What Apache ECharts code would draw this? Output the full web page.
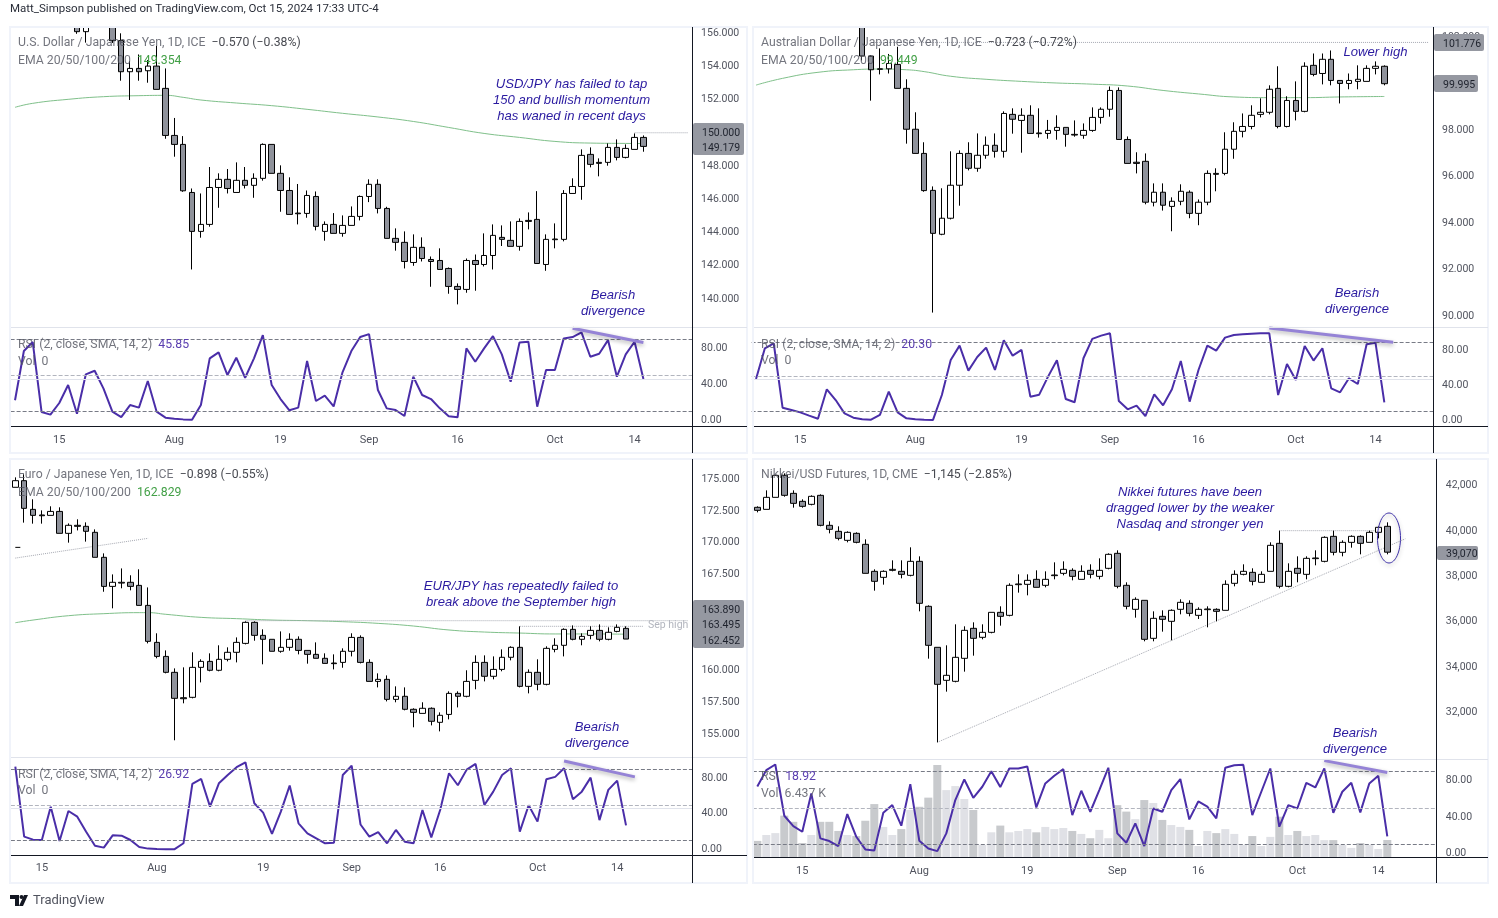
<!DOCTYPE html>
<html>
<head>
<meta charset="utf-8">
<title>USD/JPY, AUD/JPY, EUR/JPY, Nikkei</title>
<script src="https://cdn.jsdelivr.net/npm/echarts@6/dist/echarts.min.js"></script>
<style>
html, body { margin: 0; padding: 0; background: #fff; }
#main { width: 1498px; height: 918px; }
</style>
</head>
<body>
<div id="main"></div>
<script>
// [open, close, low, high]
var usdjpy = [
[160.7,160.8,160.3,161.2],[160.8,161.3,160.7,161.5],[161.3,161.7,161.2,161.8],[161.7,158.8,157.4,161.8],[158.8,157.9,157.3,159.4],[157.9,158.3,157.6,158.8],
[158.3,158.4,157.9,159],[158.4,156.08,155.95,158.8],[156.08,157.4,155.42,157.8],[157.4,157.5,156.9,157.9],[157.5,157,156.8,157.8],[157,155.54,155.4,157.1],
[155.54,153.67,153.13,155.98],[153.67,153.87,151.97,154.31],[153.87,153.67,153.13,154.71],[153.73,154.01,153.01,154.37],[154.01,152.61,152.61,155.22],[152.67,149.84,149.64,153.87],
[149.84,149.3,148.56,150.89],[149.3,146.51,146.45,149.8],[146.41,144.07,141.78,146.65],[144.07,144.49,143.69,146.35],[144.49,146.71,144.35,147.94],[146.71,147.2,145.49,147.56],
[147.2,146.65,146.35,147.82],[146.41,147.14,146.41,148.22],[147.14,146.84,146.65,147.94],[146.84,147.26,146.09,147.56],[147.26,149.3,147.12,149.36],[149.3,147.56,147.56,149.3],
[147.56,146.53,145.25,148.04],[146.53,145.09,145.09,147.32],[145.17,145.13,144.49,146.92],[145.15,146.23,144.89,146.53],[146.17,144.37,144.13,146.47],[144.07,144.49,143.51,144.67],
[144.49,143.95,143.95,145.17],[143.95,144.43,143.75,145.03],[144.43,144.97,144.43,145.57],[144.97,146.17,144.73,146.23],[146.17,146.9,145.83,147.2],[146.9,145.45,145.15,147.2],
[145.45,143.65,143.65,145.55],[143.65,143.41,142.91,144.25],[143.41,142.26,141.84,144.07],[142.2,143.11,142,143.89],[143.11,142.44,142.26,143.71],[142.38,142.26,140.74,142.56],
[142.32,141.78,141.78,143.05],[141.84,140.76,140.32,141.9],[140.76,140.58,139.68,140.94],[140.58,142.32,140.38,142.44],[142.32,142.08,140.5,142.68],[142.08,142.62,141.96,143.95],
[142.62,143.83,141.78,144.49],[143.71,143.59,143.19,144.43],[143.53,143.17,143.17,144.67],[143.17,144.67,142.91,144.85],[144.73,144.67,144.19,145.21],[144.79,142.14,142.14,146.49],
[142.08,143.59,141.7,143.89],[143.57,143.61,143.05,144.55],[143.59,146.35,143.47,146.55],[146.35,146.77,146.35,147.26],[146.77,148.64,145.97,149],[148.7,148.1,147.92,149.12],
[148.22,148.16,147.38,148.46],[148.22,149.12,148.02,149.36],[149.12,148.52,148.34,149.6],[148.52,149.06,148.46,149.3],[149,149.72,149,149.96],[149.72,149.18,148.86,149.84]
];
var audjpy = [
[108.5,108.9,108.3,109.1],[108.9,109.2,108.7,109.4],[109.2,109.3,109,109.4],[109.3,107.3,107,109.4],[107.3,107.4,106.8,107.9],[107.4,107.2,106.8,107.7],
[107.2,106.9,106.6,107.5],[106.9,105.2,105,107],[105.2,105.6,104.9,105.9],[105.6,105.2,105,105.9],[105.2,104.5,104.2,105.4],[104.5,103.8,103.5,104.6],
[103.8,101.19,101,103.9],[101.19,100.6,99.27,101.23],[100.64,100.62,100.4,101.52],[100.64,100.87,100.44,101.28],[100.83,99.8,99.8,101.59],[99.8,98.04,97.42,100.19],
[98.04,97,97,98.77],[97,95.4,95.35,97.48],[95.41,93.56,90.15,95.58],[93.52,94.21,93.48,95.5],[94.21,95.63,94.16,97.09],[95.63,97,94.75,97.13],
[97,96.36,96.27,97.48],[96.36,96.92,96.21,97.86],[96.92,97.35,96.77,97.73],[97.35,97.09,96.82,97.86],[97.09,98.72,96.82,98.81],[98.68,98.47,97.85,98.94],
[98.42,98.64,97.03,98.94],[98.64,97.86,97.86,99.07],[97.88,97.85,97.68,98.94],[97.86,97.99,97.63,98.44],[97.99,98.12,97.59,98.64],[98.12,97.82,97.29,98.12],
[97.82,97.79,97.72,98.42],[97.78,97.99,97.63,98.29],[97.99,98.55,97.93,98.98],[98.55,98.9,98.28,98.98],[98.9,99.71,98.58,99.88],[99.71,97.6,97.6,99.84],
[97.6,96.57,96.57,97.73],[96.62,96.57,96.14,97.05],[96.66,94.9,94.81,97],[94.9,95.33,94.72,95.71],[95.33,94.77,94.54,95.71],[94.72,94.94,93.65,95.11],
[94.94,95.37,94.77,95.67],[95.33,94.42,94.21,95.41],[94.42,94.9,93.91,95.02],[94.9,96.14,94.77,96.27],[96.14,96.1,95.37,96.36],[96.14,97.18,96.06,97.91],
[97.18,97.95,96.77,98.34],[97.95,98.16,97.69,98.72],[98.16,98.64,98.04,99.07],[98.68,98.77,98.55,99.37],[98.77,99.76,98.68,99.93],[99.8,98.16,98.08,100.75],
[98.16,99.28,98.12,99.46],[99.28,98.81,98.42,100.1],[98.81,100.75,98.77,100.92],[100.79,100.4,100.32,101.3],[100.44,101.05,99.97,101.3],[101.05,100.14,99.93,101.43],
[100.14,100.01,99.15,100.14],[100.01,100.14,99.76,100.44],[100.1,100.19,99.76,100.79],[100.1,100.66,100.1,100.79],[100.66,100.75,100.4,100.96],[100.75,100,99.93,100.79]
];
var eurjpy = [
[174.35,174.87,174.35,175.13],[174.87,172.7,171.58,175.37],[172.62,172.15,171.5,173.41],[172.18,172.12,171.5,172.54],[172.15,172.46,172.15,172.86],[172.46,170.74,170.74,172.78],
[170.74,171.37,170.01,171.52],[171.37,171.29,170.97,171.84],[171.29,170.9,170.09,171.6],[170.82,168.86,168.86,171.05],[168.86,166.58,166.16,169.17],[166.58,166.9,164.86,167.52],
[166.84,166.9,166.43,167.99],[166.9,166.58,166.27,167.45],[166.66,165.09,165.09,167.92],[165.09,162.27,162.11,166.5],[162.19,161.09,160.94,162.9],[161.09,159.84,159.76,161.56],
[159.84,157.8,154.51,160.15],[157.85,157.77,157.41,160.23],[157.88,160.23,157.8,161.41],[160.23,160.7,159.05,160.86],[160.7,160,159.92,161.33],[160,160.86,159.92,161.96],
[160.86,161.41,160.7,161.8],[161.41,162.19,160.62,162.58],[162.11,163.76,162.03,163.84],[163.76,162.74,162.32,163.84],[162.74,162.43,160.47,163.21],[162.43,161.49,161.49,162.43],
[161.49,161.8,161.38,163.05],[161.8,162.43,161.54,162.9],[162.43,161.56,161.25,162.66],[161.56,161.25,160.52,161.56],[161.25,160.94,160.94,162.19],[160.94,160.54,160.54,161.33],
[160.57,160.52,160.07,161.25],[160.62,161.49,160.2,161.72],[161.49,162.58,161.09,162.9],[162.58,160.62,160.54,162.74],[160.62,159.13,159.13,160.86],[159.13,159.29,158.66,159.76],
[159.29,157.72,157.56,159.6],[157.72,157.96,157.49,158.74],[157.96,156.94,156.86,158.66],[156.94,156.7,155.53,157.02],[156.62,157.02,156.62,157.49],[157.02,156,155.68,157.09],
[155.92,156.47,155.21,156.7],[156.54,158.19,156.15,158.35],[158.19,157.96,157.09,158.35],[157.96,159.13,157.88,160],[159.21,160.62,158.51,161.17],[160.62,159.53,159.13,161.17],
[159.53,160.07,159.29,161.09],[160.07,161.02,159.92,161.64],[161.02,161.8,160.78,161.88],[161.8,158.74,158.66,163.45],[158.74,159.84,158.19,160.07],[159.84,158.9,158.43,160.86],
[158.9,161.72,158.82,161.88],[161.64,161.96,161.41,162.51],[161.96,163.21,161.09,163.29],[163.21,162.43,162.35,163.52],[162.43,162.66,161.96,162.9],[162.74,163.13,162.43,163.45],
[163.13,162.43,162.27,163.6],[162.43,162.98,162.35,163.37],[163.05,163.37,162.98,163.6],[163.29,162.45,162.45,163.45]
];
var nikkei = [
[41046,40913,40825,41090],[40957,41486,40957,41794],[41486,42455,41486,42455],[42455,41574,41515,42543],[41662,41221,41031,41794],[41310,41090,41031,41398],
[41178,41530,41134,41574],[41574,40253,40209,41618],[40253,40077,39900,40429],[39988,39680,39592,40209],[39592,39944,39504,39988],[39900,39504,39460,39944],
[39416,38138,38138,39636],[38226,37786,37375,38314],[37962,38226,37639,38270],[38270,38314,38226,38711],[38226,38094,37918,38711],[38050,38667,38006,39284],
[38667,36817,36464,38887],[36685,34967,34379,36729],[34879,33249,30694,34879],[33425,33645,32926,34967],[33381,34438,33337,35892],[34394,35627,33807,35804],
[35716,35275,34511,35980],[35319,35539,35231,35892],[35539,36420,35495,36420],[36420,36244,35833,36685],[36288,37610,36244,37698],[37639,37669,37287,38094],
[37654,37830,37169,38094],[37874,37522,37522,38270],[37610,37874,37522,38226],[38036,38065,37874,38623],[38138,38314,38050,38667],[38270,38006,37830,38359],
[37874,38226,37874,38491],[38270,38094,37918,38535],[38006,38270,37874,38799],[38359,38975,38314,39019],[39019,37566,37478,39152],[37610,36685,36553,37742],
[36553,36993,36185,37081],[36949,35231,35143,36949],[35275,36156,35143,36464],[36244,36112,35569,36509],[36024,36509,35187,36553],[36553,36861,36332,36993],
[36817,36376,36244,36949],[36288,36553,36127,36641],[36538,36567,35760,36685],[36553,36464,36024,36597],[36509,37654,36509,37830],[37698,38094,37566,38270],
[38094,38226,38050,38535],[38182,37786,37610,38359],[37742,38094,37742,38226],[38226,39372,38226,39504],[39460,37566,37478,40018],[37566,38226,37522,38579],
[38359,38138,37742,38887],[38094,38799,37874,38887],[38785,38814,38491,39152],[38667,39724,38623,39768],[39768,39064,38931,40018],[39064,39504,38887,39592],
[39504,39768,39269,39812],[39768,39460,38975,39812],[39504,39944,39504,40018],[39944,40165,39680,40209],[40209,39070,38975,40385]
];

var usdjpyRsi = [22,77,87,9,6,19,39,7,51,55,35,9.3,3.3,16.7,13.8,43.5,9.3,2.6,1.5,0.7,0.4,16.7,68.8,75.5,50.2,69.5,47.2,68.8,94.8,39,23.4,10.8,13.8,65.8,21.2,27.1,15.2,53.2,77,92.6,95.9,33.5,13,11.2,4.5,48.3,27.9,23.4,13,4.1,3,79.9,65.1,79.9,93.7,73.2,42.8,86.6,87.4,14.9,55.8,55.8,91.1,92.6,97.8,70.6,74,89.2,48.3,73.2,87.4,45.85];
var audjpyRsi = [47.3,82.7,88.5,14.2,11.5,8.8,5,1.5,35.4,23,7.7,2.7,0.8,0.4,5.8,32.7,8.8,1.9,0.8,0.4,0.1,28.8,69.2,85.8,56.9,72.7,83.5,57.7,91.9,74.2,80.8,26.9,29.2,50,68.8,24.2,20.4,71.2,93.5,97.3,100,21.9,12.3,16.5,4.6,29.6,16.9,35.4,68.1,21.2,57.7,85.8,80,95,98,98.8,99.6,100,100,28.8,64.6,46.2,85.4,68.5,82.7,36.5,31.9,48.1,41.5,87.3,89.2,20.3];
var eurjpyRsi = [93.2,14.3,10.9,10.5,48.1,9.4,43.2,36.8,19.9,4.1,1.9,15.8,15.4,10.5,2.6,0.8,0.4,0.2,0.2,6.8,73.7,79.3,48.1,74.4,83.8,92.5,98.1,51.9,41.4,17.3,42.5,71.8,29.3,18,12.4,6.8,7.5,83.8,94.2,28,14.3,19.5,6.8,21.8,8.6,6.8,44.3,13.5,44.3,85.7,72.2,89.8,96.2,50,65,83.8,91.3,20,49.6,31.2,79,81.6,91.3,56.4,65,80.8,32.9,67,77.4,26.92];
var nikkeiRsi = [73.7,91.6,97.8,41.6,30.3,24.1,66,16.8,13.9,8.4,43.4,18.6,4.7,3.6,44.9,53.3,30.7,76.3,14.2,5.8,2.9,22.3,58.8,81.4,61.3,73.4,90.5,73,93.4,93.4,95.6,50.7,77,85.4,92.7,42.3,69,46,69.7,94.2,22.3,12,33.2,8.4,49.6,46,69.7,81.8,37.6,57.3,51.5,38.7,94.2,97,97.4,42.3,67.9,93.4,29.6,53.3,49.6,77.7,72.6,93.4,44.9,67.9,77.7,45.3,77,85.4,18.92];
var nikkeiVol = [6.1,8.3,9,15.5,13.2,5.3,8.3,13.2,13.2,9.8,8.3,7.9,13.6,19.8,11.3,8.3,10.5,17.6,18.8,22.2,34.3,25,26.5,21.7,17.6,4.6,9.3,11.8,9.3,9.8,10.5,9.3,11.3,10.5,10.9,9.8,8.7,7.1,10.2,7.1,19.4,17,14.2,21.3,20.2,13.9,12,11.3,10.2,4.2,9.8,9,10.5,8.7,4.6,7.9,4.2,7.6,15.1,8.3,9.8,7.9,8.3,6.4,6.4,4.6,3.5,5.3,4.6,3.1,6.437];

// EMA 200, read at a handful of bars: [bar index, value]
var usdjpyEma = [[0,151.53],[2,151.77],[6,152.01],[10,152.17],[14,152.23],[17,152.25],[19,152.13],[21,151.97],[25,151.79],[29,151.63],[33,151.41],[37,151.17],[41,150.95],[45,150.68],[49,150.32],[53,149.96],[57,149.72],[61,149.48],[65,149.38],[69,149.36],[71,149.35]];
var audjpyEma = [[0,99.94],[3,100.23],[7,100.49],[11,100.6],[14,100.63],[17,100.6],[19,100.52],[22,100.32],[26,100.19],[30,100.1],[34,100.03],[38,99.98],[42,99.9],[46,99.71],[50,99.56],[54,99.43],[58,99.4],[62,99.4],[66,99.43],[71,99.45]];
var eurjpyEma = [[0,163.73],[2,163.94],[6,164.28],[10,164.44],[14,164.52],[15,164.52],[17,164.39],[21,164.15],[25,164.05],[29,163.94],[33,163.89],[37,163.81],[41,163.68],[45,163.47],[49,163.16],[53,163],[57,162.92],[61,162.85],[65,162.85],[69,162.83]];

var dateLabels = ['15', 'Aug', '19', 'Sep', '16', 'Oct', '14'];
var usdjpyDateBars = [5, 18, 30, 40, 50, 61, 70];
var audjpyDateBars = [5, 18, 30, 40, 50, 61, 70];
var eurjpyDateBars = [3, 16, 28, 38, 48, 59, 68];
var nikkeiDateBars = [5, 18, 30, 40, 49, 60, 69];

var usdjpyTicks = [156, 154, 152, 148, 146, 144, 142, 140];
var audjpyTicks = [102, 98, 96, 94, 92, 90];
var eurjpyTicks = [175, 172.5, 170, 167.5, 160, 157.5, 155];
var nikkeiTicks = [42000, 40000, 38000, 36000, 34000, 32000];
var rsiTicks = [80, 40, 0];

var FONT = 'Roboto, "Noto Sans", sans-serif';
var NOTE_FONT = 'italic 13.1px "Liberation Sans", Arial, sans-serif';
var NOTE_COLOR = '#2a1aa0';
var TAG_COLOR = '#9598a1';

var grids = [], xAxes = [], yAxes = [], series = [], graphics = [];

function addText(x, y, text, font, fill, align) {
    graphics.push({
        type: 'text', x: x, y: y, z: 120, silent: true,
        style: { text: text, font: font, fill: fill, textAlign: align || 'left', textVerticalAlign: 'middle' }
    });
}

function addLegend(x, y, parts) {
    // parts: [text, colour] pairs, drawn one after another as rich text
    var text = '', rich = {};
    parts.forEach(function (p, i) {
        text += '{p' + i + '|' + p[0] + '}';
        rich['p' + i] = { fill: p[1], fontSize: 12.25, fontFamily: FONT };
    });
    graphics.push({
        type: 'text', x: x, y: y + 1.5, z: 120, silent: true,
        style: { text: text, rich: rich, textVerticalAlign: 'middle' }
    });
}

function addLine(x1, y1, x2, y2, color, width) {
    graphics.push({
        type: 'line', z: 110, silent: true,
        shape: { x1: x1, y1: y1, x2: x2, y2: y2 },
        style: { stroke: color, lineWidth: width || 1 }
    });
}

function addTag(x, y, w, h, labels) {
    graphics.push({
        type: 'rect', z: 115, silent: true,
        shape: { x: x, y: y, width: w, height: h, r: 2 },
        style: { fill: TAG_COLOR }
    });
    labels.forEach(function (l) {
        addText(x + 9, l[0] + 1, l[1], '10.5px ' + FONT, '#1e222d');
    });
}

function dotted(xi, yi, points, color) {
    series.push({
        type: 'line', xAxisIndex: xi, yAxisIndex: yi, data: points, symbol: 'none', silent: true, z: 2,
        lineStyle: { color: color || '#a6a9b2', width: 1, type: 'dotted' }
    });
}

// one TradingView pane pair: price on top, RSI under it
function addPanel(p) {
    var idx = grids.length;
    var labels = [];
    for (var i = 0; i < p.cats; i++) { labels.push(''); }
    p.dateBars.forEach(function (b, i) { labels[b] = dateLabels[i]; });

    grids.push({ left: p.left, top: p.top, width: p.width, height: p.priceH });
    grids.push({ left: p.left, top: p.rsiTop, width: p.width, height: p.rsiH });

    xAxes.push({ type: 'category', gridIndex: idx, data: labels, show: false });
    xAxes.push({
        type: 'category', gridIndex: idx + 1, data: labels,
        axisLine: { show: false }, axisTick: { show: false },
        axisLabel: { interval: 0, color: '#50535e', fontSize: 11, fontFamily: FONT, margin: p.dateMargin }
    });

    var hidden = { axisLine: { show: false }, axisTick: { show: false }, splitLine: { show: false } };
    yAxes.push(Object.assign({
        type: 'value', gridIndex: idx, position: 'right', min: p.priceMin, max: p.priceMax,
        axisLabel: {
            customValues: p.ticks, color: '#50535e', fontSize: 10.5, fontFamily: FONT, margin: 9,
            padding: [4, 0, 0, 0], formatter: p.fmt
        }
    }, hidden));
    yAxes.push(Object.assign({
        type: 'value', gridIndex: idx + 1, position: 'right', min: p.rsiMin, max: p.rsiMax,
        axisLabel: {
            customValues: rsiTicks, color: '#50535e', fontSize: 10.5, fontFamily: FONT, margin: 9,
            padding: [4, 0, 0, 0],
            formatter: function (v) { return v.toFixed(2); }
        }
    }, hidden));

    series.push({
        type: 'candlestick', xAxisIndex: idx, yAxisIndex: idx, data: p.ohlc, barWidth: 6, z: 3, silent: true, clip: true,
        itemStyle: { color: '#ffffff', color0: '#8f929b', borderColor: '#000000', borderColor0: '#000000', borderWidth: 1 }
    });
    if (p.ema) {
        series.push({
            type: 'line', xAxisIndex: idx, yAxisIndex: idx, data: p.ema, symbol: 'none', smooth: true, silent: true, z: 2,
            lineStyle: { color: '#7fc08a', width: 1 }
        });
    }
    (p.levels || []).forEach(function (pts) { dotted(idx, idx, pts); });

    if (p.volume) {
        grids.push({ left: p.left, top: p.rsiTop, width: p.width, height: p.rsiH });
        xAxes.push({ type: 'category', gridIndex: idx + 2, data: labels, show: false });
        yAxes.push({ type: 'value', gridIndex: idx + 2, min: 0, max: p.volMax, show: false });
        series.push({
            type: 'bar', xAxisIndex: idx + 2, yAxisIndex: idx + 2, barWidth: 8, z: 1, silent: true,
            data: p.volume.map(function (v, i) {
                var down = p.ohlc[i][1] < p.ohlc[i][0];
                return { value: v, itemStyle: { color: down ? '#c8cacd' : '#e0e1e6' } };
            })
        });
    }

    var bands = [
        { yAxis: 90, lineStyle: { color: '#787b86', type: 'dashed', width: 1 } },
        { yAxis: 50, lineStyle: { color: '#b2b5be', type: 'dashed', width: 1 } },
        { yAxis: 10, lineStyle: { color: '#787b86', type: 'dashed', width: 1 } }
    ];
    if (p.rsiMa) { bands.push({ yAxis: p.rsiMa, lineStyle: { color: '#e0e3eb', type: 'solid', width: 1 } }); }
    series.push({
        type: 'line', xAxisIndex: idx + 1, yAxisIndex: idx + 1, data: p.rsi, symbol: 'none', silent: true, z: 4,
        lineStyle: { color: '#4a2ea8', width: 2 },
        markLine: { silent: true, symbol: 'none', animation: false, label: { show: false }, data: bands }
    });
    series.push({
        type: 'line', xAxisIndex: idx + 1, yAxisIndex: idx + 1, data: p.divergence, symbol: 'none', silent: true, z: 5, clip: false,
        lineStyle: { color: '#9583d6', width: 3, shadowBlur: 4, shadowColor: 'rgba(0,0,0,0.3)', shadowOffsetY: 2 }
    });
}

function fixed3(v) { return v.toFixed(3); }
function commas(v) { return String(v).replace(/(\d)(\d{3})$/, '$1,$2'); }

addPanel({
    left: 10.6, top: 27, width: 681.5, priceH: 300, rsiTop: 328, rsiH: 98.5, cats: 77,
    priceMin: 138.32, priceMax: 156.36, rsiMin: -7.25, rsiMax: 102.7, dateMargin: 8,
    ohlc: usdjpy, ema: usdjpyEma, rsi: usdjpyRsi, ticks: usdjpyTicks, fmt: fixed3, dateBars: usdjpyDateBars,
    levels: [[[70, 150], [76, 150]]], rsiMa: 45.85,
    divergence: [[63, 102.5], [71, 86.6]]
});
addPanel({
    left: 751.6, top: 27, width: 681.4, priceH: 300, rsiTop: 328, rsiH: 98.5, cats: 77,
    priceMin: 89.53, priceMax: 102.44, rsiMin: -7.5, rsiMax: 106.1, dateMargin: 8,
    ohlc: audjpy, ema: audjpyEma, rsi: audjpyRsi, ticks: audjpyTicks, fmt: fixed3, dateBars: audjpyDateBars,
    levels: [[[13, 101.776], [76, 101.776]]], rsiMa: 47,
    divergence: [[58, 106], [72, 89.6]]
});
addPanel({
    left: 10.9, top: 459, width: 681.5, priceH: 298, rsiTop: 758, rsiH: 97, cats: 77,
    priceMin: 153.2, priceMax: 176.57, rsiMin: -6.4, rsiMax: 102.9, dateMargin: 8,
    ohlc: eurjpy, ema: eurjpyEma, rsi: eurjpyRsi, ticks: eurjpyTicks, fmt: fixed3, dateBars: eurjpyDateBars,
    levels: [[[0, 168.8], [15, 170.35]], [[26, 163.89], [76, 163.89]], [[57, 163.45], [71, 163.45]]], rsiMa: 46,
    divergence: [[62, 99.5], [70, 81.6]]
});
addPanel({
    left: 752.8, top: 459, width: 684, priceH: 298, rsiTop: 760, rsiH: 97.3, cats: 76,
    priceMin: 30047, priceMax: 43175, rsiMin: -3.9, rsiMax: 102.7, dateMargin: 8,
    ohlc: nikkei, rsi: nikkeiRsi, ticks: nikkeiTicks, fmt: commas, dateBars: nikkeiDateBars,
    levels: [[[20, 30694], [72, 39660]], [[58, 40018], [69, 40018]]],
    divergence: [[63, 102], [70, 89]],
    volume: nikkeiVol, volMax: 36.2
});
// the little black dashes left of the EUR/JPY trend line
series.push({
    type: 'line', xAxisIndex: 4, yAxisIndex: 4, data: [[0, 169.64], [1, 169.64]], symbol: 'none', silent: true, z: 2,
    lineStyle: { color: '#000', width: 1, type: [5, 4] }
});

// candles running off the top of the two upper panes stop at the frame
graphics.push({
    type: 'rect', z: 90, silent: true,
    shape: { x: 0, y: 0, width: 1498, height: 26 },
    style: { fill: '#ffffff' }
});

// panel frames and black axis rules
[[10, 27, 737, 426], [753, 27, 735, 426], [10, 459, 737, 424], [753, 459, 735, 424]].forEach(function (r) {
    graphics.push({
        type: 'rect', z: 100, silent: true,
        shape: { x: r[0], y: r[1], width: r[2], height: r[3] },
        style: { fill: 'none', stroke: '#f0f3fa', lineWidth: 2 }
    });
});
addLine(11, 327.5, 747, 327.5, '#e0e3eb');
addLine(754, 327.5, 1488, 327.5, '#e0e3eb');
addLine(11, 757.5, 747, 757.5, '#e0e3eb');
addLine(754, 759.5, 1488, 759.5, '#e0e3eb');
addLine(11, 426.5, 747, 426.5, '#131722');
addLine(754, 426.5, 1488, 426.5, '#131722');
addLine(11, 855.5, 747, 855.5, '#131722');
addLine(754, 857.5, 1488, 857.5, '#131722');
addLine(692.5, 27, 692.5, 453, '#131722');
addLine(1433.5, 27, 1433.5, 453, '#131722');
addLine(692.5, 459, 692.5, 883, '#131722');
addLine(1436.5, 459, 1436.5, 883, '#131722');

// price tags
addTag(693, 123, 51, 32, [[132, '150.000'], [147, '149.179']]);
addTag(1434, 34, 50, 17, [[43, '101.776']]);
addTag(1434, 75, 44, 17, [[84, '99.995']]);
addTag(693, 600, 51, 48, [[609, '163.890'], [624, '163.495'], [640, '162.452']]);
addTag(1437, 546, 41, 14, [[553, '39,070']]);

// pane legends
var GREY = 'rgba(80,83,94,0.8)', DARK = 'rgba(40,42,50,0.85)', GREEN = '#43a047', PURPLE = '#5b3fb0';
addLegend(18, 41, [['U.S. Dollar / Japanese Yen, 1D, ICE  ', GREY], ['\u22120.570 (\u22120.38%)', DARK]]);
addLegend(18, 59, [['EMA 20/50/100/200  ', GREY], ['149.354', GREEN]]);
addLegend(18, 343, [['RSI (2, close, SMA, 14, 2)  ', GREY], ['45.85', PURPLE]]);
addLegend(18, 360, [['Vol  0', GREY]]);

addLegend(761, 41, [['Australian Dollar / Japanese Yen, 1D, ICE  ', GREY], ['\u22120.723 (\u22120.72%)', DARK]]);
addLegend(761, 59, [['EMA 20/50/100/200  ', GREY], ['99.449', GREEN]]);
addLegend(761, 343, [['RSI (2, close, SMA, 14, 2)  ', GREY], ['20.30', PURPLE]]);
addLegend(761, 359, [['Vol  0', GREY]]);

addLegend(18, 473, [['Euro / Japanese Yen, 1D, ICE  ', GREY], ['\u22120.898 (\u22120.55%)', DARK]]);
addLegend(18, 491, [['EMA 20/50/100/200  ', GREY], ['162.829', GREEN]]);
addLegend(18, 773, [['RSI (2, close, SMA, 14, 2)  ', GREY], ['26.92', PURPLE]]);
addLegend(18, 789, [['Vol  0', GREY]]);

addLegend(761, 473, [['Nikkei/USD Futures, 1D, CME  ', GREY], ['\u22121,145 (\u22122.85%)', DARK]]);
addLegend(761, 775, [['RSI  ', GREY], ['18.92', PURPLE]]);
addLegend(761, 792, [['Vol  ', GREY], ['6.437 K', GREY]]);

// notes
function addNote(cx, y, lines) {
    lines.forEach(function (t, i) { addText(cx, y + 0.5 + i * 16, t, NOTE_FONT, NOTE_COLOR, 'center'); });
}
addNote(571.5, 83.5, ['USD/JPY has failed to tap', '150 and bullish momentum', 'has waned in recent days']);
addNote(613, 295, ['Bearish', 'divergence']);
addNote(1375.5, 52, ['Lower high']);
addNote(1357, 293, ['Bearish', 'divergence']);
addNote(521, 585.5, ['EUR/JPY has repeatedly failed to', 'break above the September high']);
addNote(597, 727, ['Bearish', 'divergence']);
addNote(1190, 492, ['Nikkei futures have been', 'dragged lower by the weaker', 'Nasdaq and stronger yen']);
addNote(1355, 733, ['Bearish', 'divergence']);
addText(648, 625.5, 'Sep high', '10.5px ' + FONT, '#b2b5be');

// ring round the last Nikkei bar
graphics.push({
    type: 'ellipse', z: 105, silent: true,
    shape: { cx: 1389, cy: 538, rx: 11.5, ry: 25 },
    style: { fill: 'none', stroke: '#3d30a8', lineWidth: 1, shadowBlur: 4, shadowColor: 'rgba(0,0,0,0.3)', shadowOffsetY: 2 }
});

// header and footer
addText(10, 9, 'Matt_Simpson published on TradingView.com, Oct 15, 2024 17:33 UTC-4', '11.5px ' + FONT, '#2a2e39');
graphics.push({ type: 'polygon', z: 120, silent: true, shape: { points: [[10, 895], [19, 895], [19, 906], [15, 906], [15, 899], [10, 899]] }, style: { fill: '#131722' } });
graphics.push({ type: 'circle', z: 120, silent: true, shape: { cx: 21.5, cy: 897, r: 2 }, style: { fill: '#131722' } });
graphics.push({ type: 'polygon', z: 120, silent: true, shape: { points: [[24, 895], [28, 895], [23, 906], [19, 906]] }, style: { fill: '#131722' } });
addText(33, 901, 'TradingView', '13px ' + FONT, '#50535e');

var chart = echarts.init(document.getElementById('main'));
chart.setOption({
    animation: false,
    backgroundColor: '#ffffff',
    grid: grids,
    xAxis: xAxes,
    yAxis: yAxes,
    series: series,
    graphic: { elements: graphics }
});
</script>
</body>
</html>
